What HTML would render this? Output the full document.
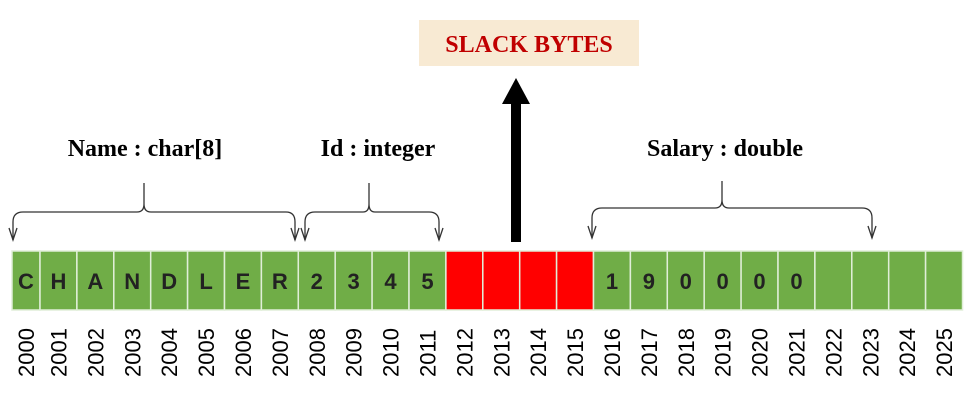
<!DOCTYPE html>
<html><head><style>
body{margin:0;background:#fff;width:976px;height:404px;overflow:hidden;position:relative;font-family:"Liberation Sans",sans-serif}
</style></head><body>
<svg width="976" height="404" style="position:absolute;left:0;top:0">
<rect x="419" y="20" width="220" height="46" fill="#f8ead3"/>
<text x="529" y="52" text-anchor="middle" font-family="Liberation Serif" font-weight="bold" font-size="24" fill="#c00000">SLACK BYTES</text>
<rect x="511" y="102" width="10" height="140" fill="#000"/>
<polygon points="502,104 530,104 516,78" fill="#000"/>
<g font-family="Liberation Serif" font-weight="bold" font-size="24" fill="#000" text-anchor="middle">
<text x="145" y="156">Name : char[8]</text>
<text x="378" y="156">Id : integer</text>
<text x="725" y="156">Salary : double</text>
</g>
<g fill="none" stroke="#333" stroke-width="1.3">
<path d="M13,240 V222 Q13,212 23,212 H137 Q144,212 144,204 V183 M144,204 Q144,212 151,212 H286 Q295,212 295,222 V240"/>
<path d="M9,228 L13,240 L17,228 M291,228 L295,240 L299,228"/>
<path d="M305,240 V222 Q305,212 315,212 H363 Q369,212 369,204 V183 M369,204 Q369,212 375,212 H429 Q439,212 439,222 V240"/>
<path d="M301,228 L305,240 L309,228 M435,228 L439,240 L443,228"/>
<path d="M592,238 V218 Q592,208 602,208 H715 Q722,208 722,200 V181 M722,200 Q722,208 729,208 H862 Q872,208 872,218 V238"/>
<path d="M588,226 L592,238 L596,226 M868,226 L872,238 L876,226"/>
</g>
<g id="cells"></g>
</svg>
<script>
var g=document.getElementById('cells');
var letters=['C','H','A','N','D','L','E','R','2','3','4','5','','','','','1','9','0','0','0','0','','','',''];
var s='';
for(var i=0;i<26;i++){
 var x0=i==0?12:40+(i-1)*36.9, x1=40+i*36.9;
 var red=(i>=12&&i<=15);
 s+='<rect x="'+x0+'" y="251" width="'+(x1-x0)+'" height="59" fill="'+(red?'#ff0000':'#70ad47')+'" stroke="#e0eed8" stroke-width="1.5"/>';
 var cx=(x0+x1)/2;
 if(letters[i]) s+='<text x="'+cx+'" y="289" text-anchor="middle" font-family="Liberation Sans" font-weight="bold" font-size="22" fill="#222">'+letters[i]+'</text>';
 s+='<text transform="translate('+(cx+8)+',377) rotate(-90)" font-family="Liberation Sans" font-size="22" fill="#000">'+(2000+i)+'</text>';
}
g.innerHTML=s;
</script>
</body></html>
